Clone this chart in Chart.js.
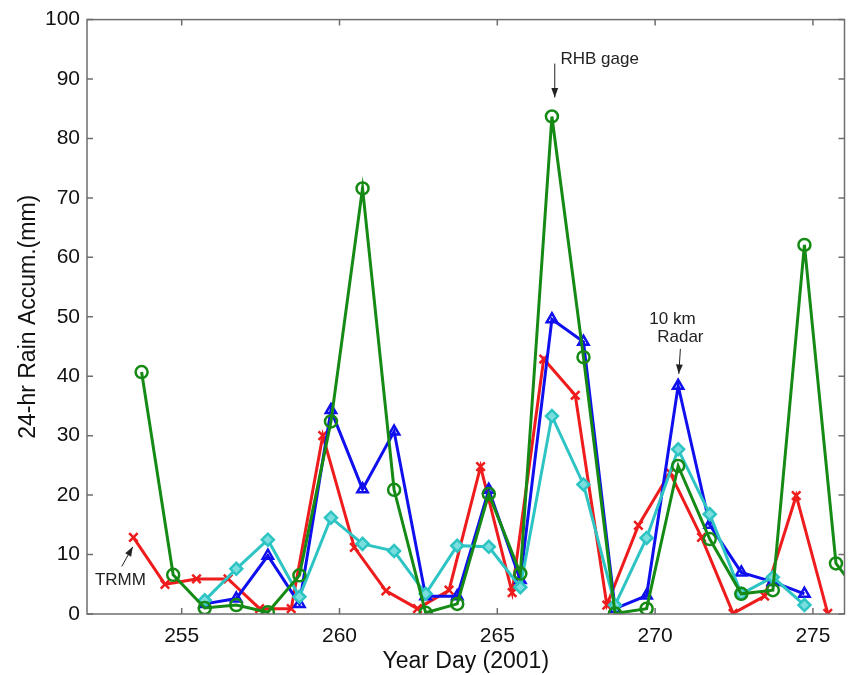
<!DOCTYPE html>
<html lang="en">
<head>
  <meta charset="UTF-8" />
  <title>24-hr Rain Accumulation</title>
  <script src="https://cdn.jsdelivr.net/npm/chart.js"></script>
  <style>
    html, body { margin: 0; padding: 0; background: #fff; }
    #wrap { width: 853px; height: 675px; }
  </style>
</head>
<body>
  <div id="wrap"><canvas id="rainChart" width="853" height="675"></canvas></div>

  <script>
    // year-day positions of each series (the gage/radar samples sit a bit later in the day than TRMM)
    const gageDays  = [253.73, 254.73, 255.73, 256.73, 257.73, 258.73, 259.73, 260.73, 261.73, 262.73, 263.73, 264.73,
                       265.73, 266.73, 267.73, 268.73, 269.73, 270.73, 271.73, 272.73, 273.73, 274.73, 275.73, 276.73];
    const gageVals  = [40.7, 6.6, 1.0, 1.5, 0.3, 6.5, 32.4, 71.6, 20.9, 0.2, 1.7, 20.2,
                       6.8, 83.7, 43.2, 0.1, 0.9, 24.9, 12.6, 3.4, 4.0, 62.1, 8.5, 1.5];

    const trmmDays  = [253.47, 254.47, 255.47, 256.47, 257.47, 258.47, 259.47, 260.47, 261.47, 262.47, 263.47, 264.47,
                       265.47, 266.47, 267.47, 268.47, 269.47, 270.47, 271.47, 272.47, 273.47, 274.47, 275.47];
    const trmmVals  = [12.9, 5.0, 5.9, 5.9, 0.9, 0.9, 30.0, 11.2, 3.9, 0.9, 4.0, 24.8,
                       3.6, 42.9, 36.8, 1.5, 14.9, 23.8, 12.9, 0.1, 3.0, 19.9, 0.1];

    const radarDays = [255.73, 256.73, 257.73, 258.73, 259.73, 260.73, 261.73, 262.73, 263.73, 264.73,
                       265.73, 266.73, 267.73, 268.73, 269.73, 270.73, 271.73, 272.73, 273.73, 274.73];
    const radarVals = [1.7, 2.6, 9.8, 1.7, 34.3, 21.0, 30.7, 3.0, 3.0, 20.9,
                       5.7, 49.6, 45.8, 0.9, 3.1, 38.4, 15.0, 7.0, 5.4, 3.4];
    const cyanVals  = [2.3, 7.6, 12.5, 2.9, 16.2, 11.8, 10.6, 3.4, 11.5, 11.3,
                       4.5, 33.3, 21.8, 1.5, 12.8, 27.7, 16.8, 3.4, 6.2, 1.5];

    const xTicks = [255, 260, 265, 270, 275];
    const yTicks = [0, 10, 20, 30, 40, 50, 60, 70, 80, 90, 100];

    const pts = (xs, ys) => xs.map((x, i) => ({ x: x, y: ys[i] }));

    // matlab style box with inward ticks on all four sides
    const framePlugin = {
      id: 'frame',
      afterDraw(chart) {
        const { ctx, chartArea: a, scales } = chart;
        ctx.save();
        ctx.strokeStyle = '#6e6e6e';
        ctx.lineWidth = 1.5;
        ctx.strokeRect(a.left, a.top, a.right - a.left, a.bottom - a.top);
        ctx.beginPath();
        xTicks.forEach(v => {
          const px = scales.x.getPixelForValue(v);
          ctx.moveTo(px, a.bottom); ctx.lineTo(px, a.bottom - 6);
          ctx.moveTo(px, a.top); ctx.lineTo(px, a.top + 6);
        });
        yTicks.forEach(v => {
          const py = scales.y.getPixelForValue(v);
          ctx.moveTo(a.left, py); ctx.lineTo(a.left + 6, py);
          ctx.moveTo(a.right, py); ctx.lineTo(a.right - 6, py);
        });
        ctx.stroke();
        ctx.restore();
      }
    };

    function arrow(ctx, x1, y1, x2, y2) {
      const ang = Math.atan2(y2 - y1, x2 - x1);
      ctx.beginPath();
      ctx.moveTo(x1, y1); ctx.lineTo(x2, y2);
      ctx.stroke();
      ctx.beginPath();
      ctx.moveTo(x2, y2);
      ctx.lineTo(x2 - 10 * Math.cos(ang - 0.35), y2 - 10 * Math.sin(ang - 0.35));
      ctx.lineTo(x2 - 10 * Math.cos(ang + 0.35), y2 - 10 * Math.sin(ang + 0.35));
      ctx.closePath();
      ctx.fill();
    }

    // text labels + arrows, placed in data units
    const notesPlugin = {
      id: 'notes',
      afterDatasetsDraw(chart) {
        const { ctx, scales } = chart;
        const X = v => scales.x.getPixelForValue(v), Y = v => scales.y.getPixelForValue(v);
        ctx.save();
        ctx.fillStyle = '#222';
        ctx.strokeStyle = '#222';
        ctx.lineWidth = 1;
        ctx.font = '17px "Liberation Sans", Arial, sans-serif';
        ctx.textBaseline = 'middle';

        ctx.textAlign = 'left';
        ctx.fillText('RHB gage', X(267.0), Y(93.4));
        arrow(ctx, X(266.82), Y(92.6), X(266.82), Y(86.9));

        ctx.textAlign = 'center';
        ctx.fillText('10 km', X(270.55), Y(49.6));
        ctx.fillText('Radar', X(270.8), Y(46.6));
        arrow(ctx, X(270.8), Y(44.6), X(270.75), Y(40.4));

        ctx.textAlign = 'left';
        ctx.fillText('TRMM', X(252.25), Y(5.6));
        arrow(ctx, X(253.1), Y(8.0), X(253.45), Y(11.3));
        ctx.restore();
      }
    };

    const lineDefaults = { borderWidth: 3, pointRadius: 6, pointBorderWidth: 2.5, tension: 0, showLine: true };

    new Chart(document.getElementById('rainChart'), {
      type: 'scatter',
      data: {
        datasets: [
          Object.assign({ label: 'RHB gage', data: pts(gageDays, gageVals), borderColor: '#158a15',
            pointStyle: 'circle', pointBackgroundColor: 'rgba(0,0,0,0)' }, lineDefaults),
          Object.assign({ label: 'Radar (cyan)', data: pts(radarDays, cyanVals), borderColor: '#2ec4c4',
            pointStyle: 'rectRot', pointBackgroundColor: '#7adede' }, lineDefaults),
          Object.assign({ label: '10 km Radar', data: pts(radarDays, radarVals), borderColor: '#1010ee',
            pointStyle: 'triangle', pointBackgroundColor: 'rgba(0,0,0,0)' }, lineDefaults),
          Object.assign({ label: 'TRMM', data: pts(trmmDays, trmmVals), borderColor: '#ee1c1c',
            pointStyle: 'crossRot', pointBackgroundColor: '#ee1c1c' }, lineDefaults)
        ]
      },
      options: {
        responsive: false,
        animation: false,
        layout: { padding: { left: 0, right: 8, top: 18, bottom: 0 } },
        plugins: { legend: { display: false }, tooltip: { enabled: false } },
        scales: {
          x: {
            type: 'linear', min: 252, max: 276,
            afterBuildTicks: s => { s.ticks = xTicks.map(v => ({ value: v })); },
            afterFit: s => { s.height = 61; },
            grid: { display: false, drawTicks: false, tickLength: 0 }, border: { display: false },
            ticks: { padding: 10, color: '#111', font: { family: '"Liberation Sans", Arial, sans-serif', size: 21 } },
            title: { display: true, text: 'Year Day (2001)', color: '#111', padding: { top: 0, bottom: 0 },
              font: { family: '"Liberation Sans", Arial, sans-serif', size: 23 } }
          },
          y: {
            min: 0, max: 100,
            afterBuildTicks: s => { s.ticks = yTicks.map(v => ({ value: v })); },
            afterFit: s => { s.width = 87; },
            grid: { display: false, drawTicks: false, tickLength: 0 }, border: { display: false },
            ticks: { padding: 7, color: '#111', font: { family: '"Liberation Sans", Arial, sans-serif', size: 21 } },
            title: { display: true, text: '24-hr Rain Accum.(mm)', color: '#111', padding: { top: 15, bottom: 0 },
              font: { family: '"Liberation Sans", Arial, sans-serif', size: 23 } }
          }
        }
      },
      plugins: [framePlugin, notesPlugin]
    });
  </script>
</body>
</html>
